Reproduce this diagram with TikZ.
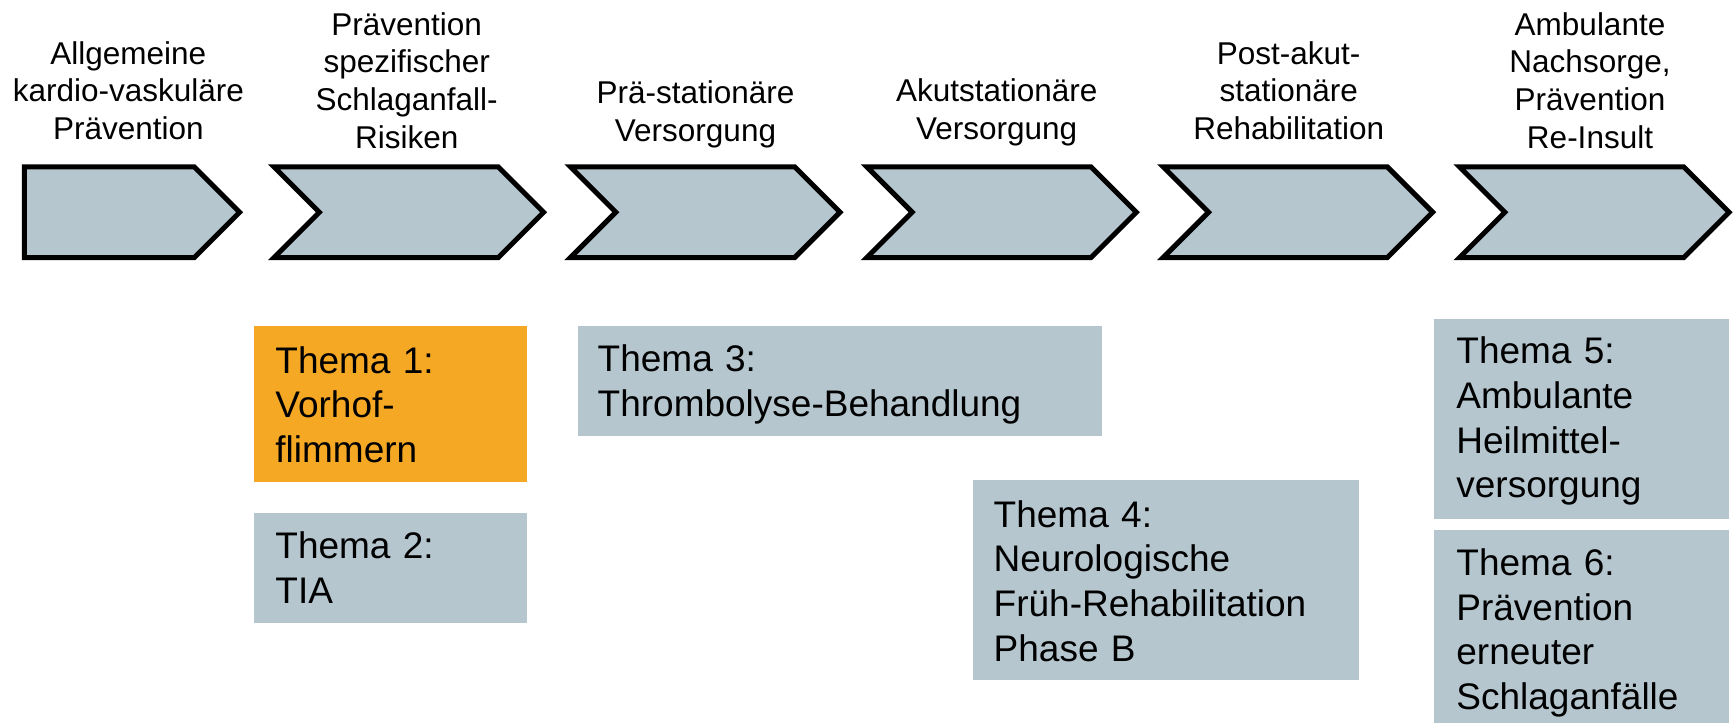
\documentclass[tikz,border=0pt]{standalone}
\usepackage{fontspec}
\setmainfont{Liberation Sans}
\definecolor{themegray}{RGB}{181,198,207}
\definecolor{themeorange}{RGB}{245,168,36}
\tikzset{
  chev/.style={draw=black, line width=2.5pt, fill=themegray, line join=miter},
  toplabel/.style={text width=140pt, align=center, inner sep=0pt, anchor=base,
    font=\fontsize{15.75pt}{18.85pt}\selectfont},
  themebox/.style={anchor=north west, inner ysep=0pt, align=left, fill=themegray,
    font=\fontsize{18.5pt}{22.35pt}\selectfont}
}
\begin{document}
\begin{tikzpicture}[x=0.5pt,y=-0.5pt]
\useasboundingbox (0,0) rectangle (1734,725);

% chevrons
\draw[chev] (24.3,166.8) -- (194.2,166.8) -- (239.6,212.2) -- (194.2,257.6) -- (24.3,257.6) -- cycle;
\foreach \L in {274,570.4,866.8,1163.1,1459.5}{
  \draw[chev] (\L,166.8) -- ({\L+224.2},166.8) -- ({\L+269.6},212.2) -- ({\L+224.2},257.6)
    -- (\L,257.6) -- ({\L+45.4},212.2) -- cycle;
}

% top labels
\node[toplabel] (l1) at (128.3,64) {Allgemeine\\kardio-vaskuläre\\Prävention};
\node[toplabel] (l2) at (406.7,35) {Prävention\\spezifischer\\Schlaganfall-\\Risiken};
\node[toplabel] (l3) at (695.5,103.5) {Prä-stationäre\\Versorgung};
\node[toplabel] (l4) at (996.7,101.7) {Akutstationäre\\Versorgung};
\node[toplabel] (l5) at (1288.7,64) {Post-akut-\\stationäre\\Rehabilitation};
\node[toplabel] (l6) at (1590,35) {Ambulante\\Nachsorge,\\Prävention\\Re-Insult};

% theme boxes
\node[themebox, fill=themeorange, inner xsep=10.5pt, text width=115.35pt,
  text height=23.35pt, text depth=54.5pt] (t1) at (254,326) {Thema 1:\\Vorhof-\\flimmern};
\node[themebox, inner xsep=10.5pt, text width=115.35pt,
  text height=22.65pt, text depth=32.2pt] (t2) at (254,513) {Thema 2:\\TIA};
\node[themebox, inner xsep=10pt, text width=242.35pt,
  text height=22.5pt, text depth=32.35pt] (t3) at (577.3,326) {Thema 3:\\Thrombolyse-Behandlung};
\node[themebox, inner xsep=10.3pt, text width=172.55pt,
  text height=23.35pt, text depth=76.65pt] (t4) at (972.7,480) {Thema 4:\\Neurologische\\Früh-Rehabilitation\\Phase B};
\node[themebox, inner xsep=11pt, text width=125.15pt,
  text height=22.5pt, text depth=77.5pt] (t5) at (1434,318.3) {Thema 5:\\Ambulante\\Heilmittel-\\versorgung};
\node[themebox, inner xsep=11pt, text width=125.15pt,
  text height=22.5pt, text depth=73.65pt] (t6) at (1434,530) {Thema 6:\\Prävention\\erneuter\\Schlaganfälle};
\end{tikzpicture}
\end{document}
